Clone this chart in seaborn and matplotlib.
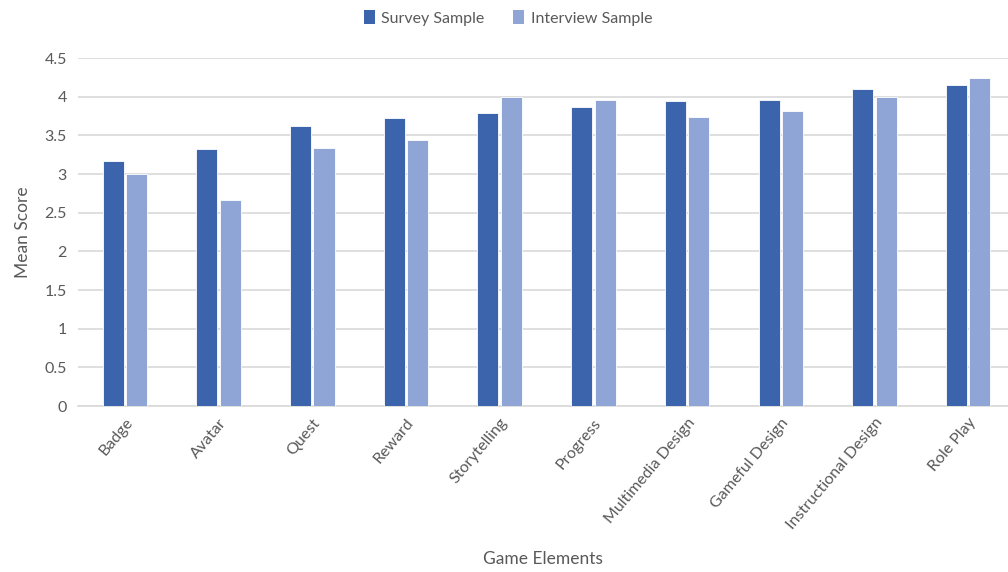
import numpy as np
import pandas as pd
import matplotlib
matplotlib.use("Agg")
import matplotlib.pyplot as plt
import seaborn as sns
from matplotlib.ticker import FixedLocator

categories = ["Badge", "Avatar", "Quest", "Reward", "Storytelling", "Progress",
              "Multimedia Design", "Gameful Design", "Instructional Design", "Role Play"]
survey_scores = [3.17, 3.32, 3.62, 3.73, 3.79, 3.87, 3.95, 3.96, 4.10, 4.15]
interview_scores = [3.00, 2.67, 3.33, 3.44, 4.00, 3.96, 3.74, 3.82, 4.00, 4.24]
series_names = ["Survey Sample", "Interview Sample"]

df = pd.DataFrame({
    "Game Elements": categories * 2,
    "Mean Score": survey_scores + interview_scores,
    "Sample": [series_names[0]] * len(categories) + [series_names[1]] * len(categories),
})

sns.set_theme(style="white")
plt.rcParams["font.family"] = ["Lato", "DejaVu Sans"]
text_color = "#595959"
grid_color = "#D9D9D9"
palette = {"Survey Sample": "#3C64AD", "Interview Sample": "#8FA5D5"}

fig = plt.figure(figsize=(10.08, 5.72), dpi=100)
ax = fig.add_axes([78 / 1008, 166 / 572, 930 / 1008, 348 / 572])

sns.barplot(data=df, x="Game Elements", y="Mean Score", hue="Sample",
            palette=palette, saturation=1, width=0.5, gap=0.1, ax=ax,
            edgecolor="white", linewidth=0.6, zorder=3, legend=True)

ax.set_ylim(0, 4.5)
ax.set_xlim(-0.5, 9.425)
ax.set_yticks(np.arange(0, 4.51, 0.5))
ax.set_yticklabels(["0", "0.5", "1", "1.5", "2", "2.5", "3", "3.5", "4", "4.5"])
ax.grid(axis="y", color=grid_color, linewidth=1.2, zorder=0)
ax.set_axisbelow(True)

for side in ["top", "right", "left"]:
    ax.spines[side].set_visible(False)
ax.spines["bottom"].set_color(grid_color)
ax.spines["bottom"].set_linewidth(1.2)

ax.tick_params(axis="y", length=0, labelsize=11.5, labelcolor=text_color, pad=8)
ax.tick_params(axis="x", which="major", length=0, labelsize=11.5,
               labelcolor=text_color, pad=7)
ax.xaxis.set_minor_locator(FixedLocator(np.arange(-0.5, 10, 1.0)))
ax.tick_params(axis="x", which="minor", length=5, color=grid_color, width=1.2)
plt.setp(ax.get_xticklabels(), rotation=50, ha="right", rotation_mode="anchor")

ax.set_xlabel("Game Elements", fontsize=12.5, color=text_color, labelpad=13)
ax.set_ylabel("Mean Score", fontsize=12.5, color=text_color, labelpad=10)

leg = ax.legend(loc="upper center", bbox_to_anchor=(430 / 930, 1 + 62 / 348),
                ncol=2, frameon=False, fontsize=11.5, handlelength=0.7,
                handleheight=0.9, handletextpad=0.4, columnspacing=1.8,
                labelcolor=text_color)
for h in leg.legend_handles:
    h.set_edgecolor("none")

fig.savefig("out.png", dpi=100)
